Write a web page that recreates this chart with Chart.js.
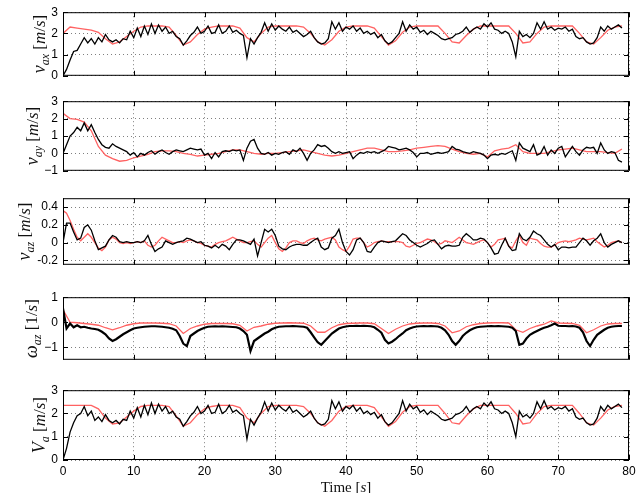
<!DOCTYPE html>
<html>
<head>
<meta charset="utf-8">
<script src="https://cdn.jsdelivr.net/npm/chart.js@4.4.0/dist/chart.umd.min.js"></script>
<style>
html, body { margin: 0; padding: 0; background: #fff; }
#wrap { position: relative; width: 644px; height: 493px; overflow: hidden; }
#wrap canvas { position: absolute; left: 0; }
</style>
</head>
<body>
<div id="wrap"></div>
<script>
// Time axis
var xTicks = [0, 10, 20, 30, 40, 50, 60, 70, 80];
var measStep = 0.5;   // black (measured) sample spacing, s
var refStep = 1;      // red (reference) sample spacing, s

// v_ax [m/s]
var vaxMeas = [0.0,0.3,0.75,1.15,1.2,1.5,1.8,1.55,1.75,1.5,1.8,1.6,1.95,1.7,1.6,1.7,1.55,1.75,1.7,2.1,
  1.8,2.25,1.85,2.35,1.95,2.45,2.0,2.4,2.1,2.3,2.0,2.1,1.85,1.75,1.45,1.65,1.9,2.05,2.3,2.0,
  2.1,2.35,2.0,2.05,2.4,2.0,2.1,2.35,2.05,2.15,2.0,1.9,0.85,1.75,1.5,1.8,2.05,2.5,2.1,2.45,
  2.15,2.35,2.2,2.1,2.3,2.05,2.15,2.0,1.85,1.95,2.1,1.8,1.6,1.5,1.55,1.75,2.55,2.2,2.5,2.1,
  2.3,2.2,2.35,2.1,2.25,2.0,2.1,1.95,2.05,1.8,1.95,1.65,1.5,1.6,1.8,2.0,2.55,2.1,2.4,2.2,
  2.3,2.05,2.15,1.95,2.1,2.0,1.9,1.75,1.7,1.75,1.8,1.95,2.0,2.1,2.3,2.05,2.2,2.3,2.2,2.45,
  2.3,2.5,2.2,2.15,2.0,2.1,2.0,1.6,0.9,2.1,1.85,1.95,1.8,2.0,2.5,2.2,2.55,2.2,2.3,2.15,
  2.25,2.2,2.3,2.1,2.2,1.85,1.75,1.8,1.6,1.5,1.55,1.8,2.3,2.1,2.35,2.2,2.3,2.4,2.25];
var vaxRef = [2.0,2.3,2.25,2.2,2.15,2.05,1.75,1.5,1.6,1.85,2.1,2.3,2.35,2.35,2.35,2.3,1.9,1.45,1.6,1.95,
  2.2,2.3,2.35,2.35,2.35,2.25,1.8,1.6,2.0,2.3,2.35,2.35,2.35,2.35,2.3,2.0,1.6,1.45,1.7,2.1,
  2.3,2.35,2.35,2.35,2.25,1.85,1.45,1.65,2.05,2.3,2.35,2.35,2.35,2.35,2.0,1.6,1.55,1.9,2.2,2.35,
  2.35,2.35,2.35,2.35,2.0,1.55,1.6,2.0,2.3,2.35,2.35,2.35,2.35,2.0,1.6,1.5,1.8,2.15,2.3,2.35];

// v_ay [m/s]
var vayMeas = [0.0,0.5,1.0,1.2,1.5,1.3,1.75,1.3,1.65,1.2,0.8,0.5,0.35,0.3,0.55,0.4,0.3,0.2,0.1,-0.1,
  0.05,-0.2,0.0,-0.1,0.05,0.15,-0.05,0.1,0.2,0.05,-0.05,0.1,0.2,0.15,0.1,0.2,0.3,0.25,0.2,0.25,
  -0.1,0.0,-0.3,0.05,-0.2,0.1,0.15,0.1,0.2,0.15,0.2,-0.4,0.3,0.7,0.8,0.3,0.0,-0.05,0.05,-0.1,
  0.0,-0.05,0.05,0.1,-0.05,0.2,0.1,0.3,0.0,-0.4,0.0,0.2,0.5,0.4,0.45,0.3,0.1,0.0,0.1,0.0,
  0.05,0.1,-0.3,-0.1,0.05,0.0,0.1,0.05,0.1,0.0,0.1,0.2,0.4,0.35,0.3,0.2,0.25,0.3,0.2,0.05,
  -0.2,0.0,0.0,0.05,-0.05,0.0,0.05,0.0,0.05,0.1,0.4,0.25,0.2,0.1,0.05,0.0,0.1,0.05,0.0,-0.1,
  -0.3,-0.1,-0.05,-0.1,0.0,-0.05,0.05,0.15,-0.4,0.6,0.3,0.2,0.1,0.5,-0.1,0.0,0.4,-0.1,0.2,0.0,
  0.3,0.4,-0.2,0.1,0.4,0.1,-0.1,0.2,0.35,0.3,0.35,0.0,0.6,0.2,0.0,0.1,0.05,-0.4,-0.5];
var vayRef = [2.3,2.0,1.95,1.8,1.3,0.4,-0.1,-0.3,-0.45,-0.4,-0.25,-0.15,-0.05,0.1,0.15,0.15,0.1,0.0,-0.05,-0.15,
  -0.1,-0.05,0.0,0.1,0.2,0.2,0.1,0.0,-0.05,0.0,0.0,0.05,0.1,0.15,0.2,0.1,0.0,-0.1,-0.15,-0.1,
  0.0,0.1,0.2,0.3,0.3,0.2,0.1,0.1,0.15,0.2,0.3,0.35,0.4,0.45,0.4,0.25,0.1,0.0,-0.05,0.0,
  -0.2,0.15,0.25,0.3,0.5,0.1,0.0,0.0,0.0,0.1,0.2,0.25,0.3,0.2,0.1,0.1,0.1,0.05,0.0,0.25];

// v_az [m/s]
var vazMeas = [0.0,0.22,0.22,0.12,0.03,0.05,0.17,0.2,0.14,0.02,-0.08,-0.06,-0.04,0.03,0.08,0.06,0.01,0.0,0.01,0.0,
  0.0,0.01,0.0,0.02,0.08,-0.02,-0.1,-0.07,-0.05,0.02,0.0,-0.02,0.0,0.01,0.02,0.05,0.04,0.02,0.0,0.01,
  -0.03,-0.04,-0.06,-0.03,-0.06,-0.02,-0.04,-0.08,-0.02,0.03,0.03,0.02,0.0,-0.02,0.04,-0.15,0.0,0.15,0.12,0.15,
  0.08,-0.04,-0.07,-0.08,-0.05,-0.03,-0.02,-0.02,-0.03,-0.03,0.0,0.03,0.05,-0.05,-0.08,-0.06,0.05,0.08,0.15,0.0,
  -0.1,-0.14,-0.08,0.03,0.05,0.0,-0.1,-0.11,-0.05,0.0,0.02,0.01,0.0,0.01,0.02,0.06,0.1,0.08,0.03,0.0,
  -0.03,-0.05,-0.03,-0.01,0.02,0.03,-0.02,-0.07,-0.04,-0.03,-0.04,-0.04,-0.03,0.06,0.1,0.07,0.03,0.03,0.05,0.04,
  0.0,-0.06,-0.13,-0.12,-0.03,0.05,-0.04,-0.09,-0.08,0.1,0.04,0.02,0.06,0.13,0.1,0.08,0.03,-0.02,-0.05,-0.02,
  -0.08,-0.05,-0.05,-0.06,-0.05,-0.05,0.0,0.05,0.02,-0.03,0.02,0.05,0.1,0.0,-0.05,-0.02,0.0,0.02,0.0];
var vazRef = [0.36,0.33,0.25,0.15,0.06,0.02,0.06,0.1,0.06,0.0,-0.06,-0.09,-0.05,0.03,0.06,0.04,0.0,-0.01,0.0,-0.01,
  0.0,0.01,0.0,0.02,-0.03,-0.05,-0.03,0.02,0.06,0.04,0.02,0.0,0.0,0.01,0.0,0.02,0.03,0.02,0.0,-0.01,
  -0.03,-0.04,-0.05,-0.02,0.0,0.01,0.02,0.04,0.06,0.04,0.02,0.0,0.0,0.01,0.02,-0.02,-0.05,0.0,0.05,0.08,
  0.0,-0.07,-0.1,-0.06,0.0,0.02,0.02,0.0,-0.01,0.02,0.04,0.05,0.03,0.02,0.04,0.05,0.06,0.03,-0.05,-0.08,
  -0.1,-0.04,0.04,0.05,0.05,0.0,-0.05,-0.03,0.0,0.01,0.02,0.01,0.01,0.01,0.01,0.01,0.0,-0.04,-0.05,-0.03,
  -0.01,0.0,0.02,0.04,0.03,0.01,-0.02,-0.01,0.02,0.01,0.0,0.03,0.06,0.03,0.0,-0.01,-0.02,0.0,0.02,0.03,
  0.0,-0.05,-0.02,0.03,0.04,0.05,-0.04,-0.06,0.02,0.08,0.0,-0.03,0.05,0.04,0.03,-0.01,-0.04,-0.05,-0.05,-0.03,
  0.0,0.01,0.02,0.01,0.02,0.03,0.05,0.04,0.03,0.04,0.05,0.01,-0.02,-0.05,-0.03,0.0,0.01,0.02,0.0];

// omega_az [1/s]
var wazMeas = [0.55,-0.25,-0.05,-0.2,-0.12,-0.2,-0.18,-0.22,-0.25,-0.27,-0.3,-0.38,-0.48,-0.65,-0.75,-0.68,-0.58,-0.48,-0.4,-0.32,
  -0.25,-0.22,-0.2,-0.18,-0.17,-0.16,-0.16,-0.17,-0.18,-0.2,-0.22,-0.26,-0.32,-0.55,-0.85,-0.95,-0.55,-0.45,-0.35,-0.28,
  -0.22,-0.18,-0.17,-0.16,-0.17,-0.16,-0.17,-0.18,-0.19,-0.2,-0.25,-0.35,-0.5,-1.15,-0.75,-0.65,-0.55,-0.45,-0.38,-0.28,
  -0.22,-0.18,-0.17,-0.16,-0.16,-0.15,-0.16,-0.17,-0.18,-0.22,-0.4,-0.6,-0.8,-0.9,-0.75,-0.6,-0.45,-0.35,-0.25,-0.2,
  -0.17,-0.15,-0.15,-0.14,-0.15,-0.14,-0.15,-0.16,-0.2,-0.3,-0.42,-0.7,-0.85,-0.78,-0.68,-0.55,-0.45,-0.32,-0.25,-0.2,
  -0.17,-0.16,-0.15,-0.16,-0.15,-0.16,-0.17,-0.22,-0.32,-0.5,-0.75,-0.9,-0.75,-0.55,-0.42,-0.32,-0.25,-0.2,-0.18,-0.17,
  -0.16,-0.15,-0.16,-0.15,-0.16,-0.17,-0.18,-0.22,-0.35,-0.9,-0.85,-0.65,-0.5,-0.42,-0.35,-0.28,-0.22,-0.18,-0.12,-0.05,
  -0.14,-0.15,-0.15,-0.16,-0.15,-0.17,-0.22,-0.4,-0.75,-0.95,-0.7,-0.5,-0.4,-0.3,-0.22,-0.18,-0.16,-0.15,-0.15];
var wazRef = [0.5,0.0,-0.02,-0.05,-0.08,-0.12,-0.22,-0.3,-0.22,-0.12,-0.06,-0.03,-0.03,-0.03,-0.04,-0.06,-0.15,-0.45,-0.25,-0.15,
  -0.08,-0.05,-0.05,-0.05,-0.06,-0.12,-0.35,-0.2,-0.15,-0.08,-0.04,-0.03,-0.02,-0.03,-0.04,-0.15,-0.4,-0.4,-0.22,-0.1,
  -0.05,-0.04,-0.03,-0.03,-0.06,-0.25,-0.45,-0.28,-0.15,-0.07,-0.04,-0.03,-0.03,-0.05,-0.15,-0.42,-0.35,-0.18,-0.1,-0.05,
  -0.03,-0.02,-0.02,-0.03,-0.3,-0.4,-0.25,-0.15,-0.08,0.05,-0.03,-0.04,-0.05,-0.12,-0.42,-0.3,-0.15,-0.07,-0.05,-0.05];

// V_a [m/s]
var vaMeas = [0.0,0.5,1.2,1.6,1.9,2.0,2.3,1.9,2.1,1.7,1.85,1.65,1.95,1.7,1.6,1.7,1.55,1.75,1.7,2.1,
  1.8,2.25,1.85,2.35,1.95,2.45,2.0,2.4,2.1,2.3,2.0,2.1,1.85,1.75,1.45,1.65,1.9,2.05,2.3,2.0,
  2.1,2.35,2.0,2.05,2.4,2.0,2.1,2.35,2.05,2.15,2.0,1.9,0.9,1.75,1.5,1.8,2.05,2.5,2.1,2.45,
  2.15,2.35,2.2,2.1,2.3,2.05,2.15,2.0,1.85,1.95,2.1,1.8,1.6,1.5,1.55,1.75,2.55,2.2,2.5,2.1,
  2.3,2.2,2.35,2.1,2.25,2.0,2.1,1.95,2.05,1.8,1.95,1.65,1.5,1.6,1.8,2.0,2.55,2.1,2.4,2.2,
  2.3,2.05,2.15,1.95,2.1,2.0,1.9,1.75,1.7,1.75,1.8,1.95,2.0,2.1,2.3,2.05,2.2,2.3,2.2,2.45,
  2.3,2.5,2.2,2.15,2.0,2.1,2.0,1.6,1.0,2.1,1.85,1.95,1.8,2.0,2.5,2.2,2.55,2.2,2.3,2.15,
  2.25,2.2,2.3,2.1,2.2,1.85,1.75,1.8,1.6,1.5,1.55,1.8,2.3,2.1,2.35,2.2,2.3,2.4,2.25];
var vaRef = [2.35,2.35,2.35,2.35,2.35,2.2,1.8,1.55,1.6,1.85,2.1,2.3,2.35,2.35,2.35,2.3,1.9,1.45,1.6,1.95,
  2.2,2.3,2.35,2.35,2.35,2.25,1.8,1.6,2.0,2.3,2.35,2.35,2.35,2.35,2.3,2.0,1.6,1.45,1.7,2.1,
  2.3,2.35,2.35,2.35,2.25,1.85,1.45,1.65,2.05,2.3,2.35,2.35,2.35,2.35,2.0,1.6,1.55,1.9,2.2,2.35,
  2.35,2.35,2.35,2.35,2.0,1.55,1.6,2.0,2.3,2.35,2.35,2.35,2.35,2.0,1.6,1.5,1.8,2.15,2.3,2.35];

// y tick values per panel
var vaxTicks = [0, 1, 2, 3];
var vayTicks = [-1, 0, 1, 2, 3];
var vazTicks = [-0.2, 0, 0.2, 0.4];
var wazTicks = [-1, 0, 1];
var vaTicks = [0, 1, 2, 3];

var SERIF = '"Liberation Serif", "Times New Roman", serif';
var SANS = '"Liberation Sans", Arial, sans-serif';
var RED = '#ff6262';

function it(size) { return 'italic ' + size + 'px ' + SERIF; }
function up(size) { return size + 'px ' + SERIF; }

function unitRuns(num) {
    return [
        { t: ' [', f: up(17) },
        num ? { t: num, f: up(17) } : { t: 'm', f: it(17) },
        { t: '/', f: up(17) },
        { t: 's', f: it(17) },
        { t: ']', f: up(17) }
    ];
}

var panels = [
    { top: 10, bottom: 78, min: 0, max: 3, ticks: vaxTicks, meas: vaxMeas, ref: vaxRef, refStep: refStep, labelX: 45,
      label: [{ t: 'v', f: it(18) }, { t: 'ax', f: it(12), dy: 4 }].concat(unitRuns()) },
    { top: 99, bottom: 173, min: -1, max: 3, ticks: vayTicks, meas: vayMeas, ref: vayRef, refStep: refStep, labelX: 38,
      label: [{ t: 'v', f: it(18) }, { t: 'ay', f: it(12), dy: 4 }].concat(unitRuns()) },
    { top: 196, bottom: 267, min: -0.25, max: 0.5, ticks: vazTicks, meas: vazMeas, ref: vazRef, refStep: measStep, labelX: 30,
      label: [{ t: 'v', f: it(18) }, { t: 'az', f: it(12), dy: 4 }].concat(unitRuns()) },
    { top: 295, bottom: 362, min: -1.5, max: 1, ticks: wazTicks, meas: wazMeas, ref: wazRef, refStep: refStep, labelX: 37, thick: true,
      label: [{ t: '\u03c9', f: it(18) }, { t: 'az', f: it(12), dy: 4 }].concat(unitRuns('1')) },
    { top: 388, bottom: 460, min: 0, max: 3, ticks: vaTicks, meas: vaMeas, ref: vaRef, refStep: refStep, labelX: 45, last: true,
      label: [{ t: 'V', f: it(18) }, { t: 'a', f: it(12), dy: 4 }].concat(unitRuns()) }
];

function tickText(v) {
    if (v < 0 && Number.isInteger(v)) return '\u2212' + Math.abs(v);
    return String(v);
}

// draws a row of text pieces (mixed fonts) centred on x,y, optionally rotated
function drawRuns(ctx, runs, x, y, rotate) {
    var total = 0;
    runs.forEach(function(r) { ctx.font = r.f; total += ctx.measureText(r.t).width; });
    ctx.save();
    ctx.translate(x, y);
    if (rotate) ctx.rotate(-Math.PI / 2);
    ctx.textBaseline = 'alphabetic';
    ctx.textAlign = 'left';
    ctx.fillStyle = '#111';
    var pos = -total / 2;
    runs.forEach(function(r) {
        ctx.font = r.f;
        ctx.fillText(r.t, pos, r.dy || 0);
        pos += ctx.measureText(r.t).width;
    });
    ctx.restore();
}

// box, inward ticks and axis labels, MATLAB style
var framePlugin = {
    id: 'frame',
    afterDraw: function(chart, args, opts) {
        var ctx = chart.ctx, a = chart.chartArea;
        var sx = chart.scales.x, sy = chart.scales.y;
        ctx.save();
        ctx.strokeStyle = '#000';
        ctx.lineWidth = 1;
        ctx.beginPath();
        sx.ticks.forEach(function(t) {
            var px = Math.round(sx.getPixelForValue(t.value)) + 0.5;
            ctx.moveTo(px, a.bottom); ctx.lineTo(px, a.bottom - 5);
            ctx.moveTo(px, a.top); ctx.lineTo(px, a.top + 5);
        });
        sy.ticks.forEach(function(t) {
            var py = Math.round(sy.getPixelForValue(t.value)) + 0.5;
            ctx.moveTo(a.left, py); ctx.lineTo(a.left + 5, py);
            ctx.moveTo(a.right, py); ctx.lineTo(a.right - 5, py);
        });
        ctx.stroke();
        ctx.strokeRect(a.left + 0.5, a.top + 0.5, a.right - a.left - 1, a.bottom - a.top - 1);
        ctx.restore();

        drawRuns(ctx, opts.label, opts.labelX, (a.top + a.bottom) / 2, true);

        if (opts.last) {
            drawRuns(ctx, [{ t: 'Time [', f: up(15) }, { t: 's', f: it(15) }, { t: ']', f: up(15) }],
                     (a.left + a.right) / 2, a.bottom + 32, false);
        }
    }
};

function toPoints(values, step) {
    return values.map(function(v, i) { return { x: i * step, y: v }; });
}

var wrap = document.getElementById('wrap');

panels.forEach(function(p) {
    var extra = p.last ? 33 : 10;
    var canvas = document.createElement('canvas');
    canvas.width = 644;
    canvas.height = (p.bottom - p.top) + 10 + extra;
    canvas.style.top = (p.top - 10) + 'px';
    wrap.appendChild(canvas);

    new Chart(canvas, {
        type: 'line',
        data: {
            datasets: [
                {
                    data: toPoints(p.meas, measStep),
                    borderColor: '#000',
                    borderWidth: p.thick ? 2.2 : 1.3,
                    pointRadius: 0,
                    tension: 0,
                    order: 1
                },
                {
                    data: toPoints(p.ref, p.refStep),
                    borderColor: RED,
                    borderWidth: 1.3,
                    pointRadius: 0,
                    tension: 0,
                    order: 2
                }
            ]
        },
        options: {
            responsive: false,
            animation: false,
            events: [],
            layout: { padding: { left: 0, right: 15, top: 10, bottom: p.last ? 0 : 10 } },
            plugins: {
                legend: { display: false },
                tooltip: { enabled: false },
                frame: { label: p.label, labelX: p.labelX, last: !!p.last }
            },
            scales: {
                x: {
                    type: 'linear',
                    min: 0,
                    max: 80,
                    afterBuildTicks: function(s) { s.ticks = xTicks.map(function(v) { return { value: v }; }); },
                    afterFit: function(s) { s.height = p.last ? 33 : 0; },
                    grid: { color: 'rgba(0,0,0,0.5)', lineWidth: 1, drawTicks: false },
                    border: { display: false, dash: [1, 3] },
                    ticks: {
                        display: !!p.last,
                        padding: 4,
                        color: '#000',
                        font: { family: SANS, size: 12 },
                        maxRotation: 0
                    }
                },
                y: {
                    type: 'linear',
                    min: p.min,
                    max: p.max,
                    afterBuildTicks: function(s) { s.ticks = p.ticks.map(function(v) { return { value: v }; }); },
                    afterFit: function(s) { s.width = 63; },
                    grid: { color: 'rgba(0,0,0,0.5)', lineWidth: 1, drawTicks: false },
                    border: { display: false, dash: [1, 3] },
                    ticks: {
                        padding: 5,
                        color: '#000',
                        font: { family: SANS, size: 12 },
                        callback: function(v) { return tickText(v); }
                    }
                }
            }
        },
        plugins: [framePlugin]
    });
});
</script>
</body>
</html>
